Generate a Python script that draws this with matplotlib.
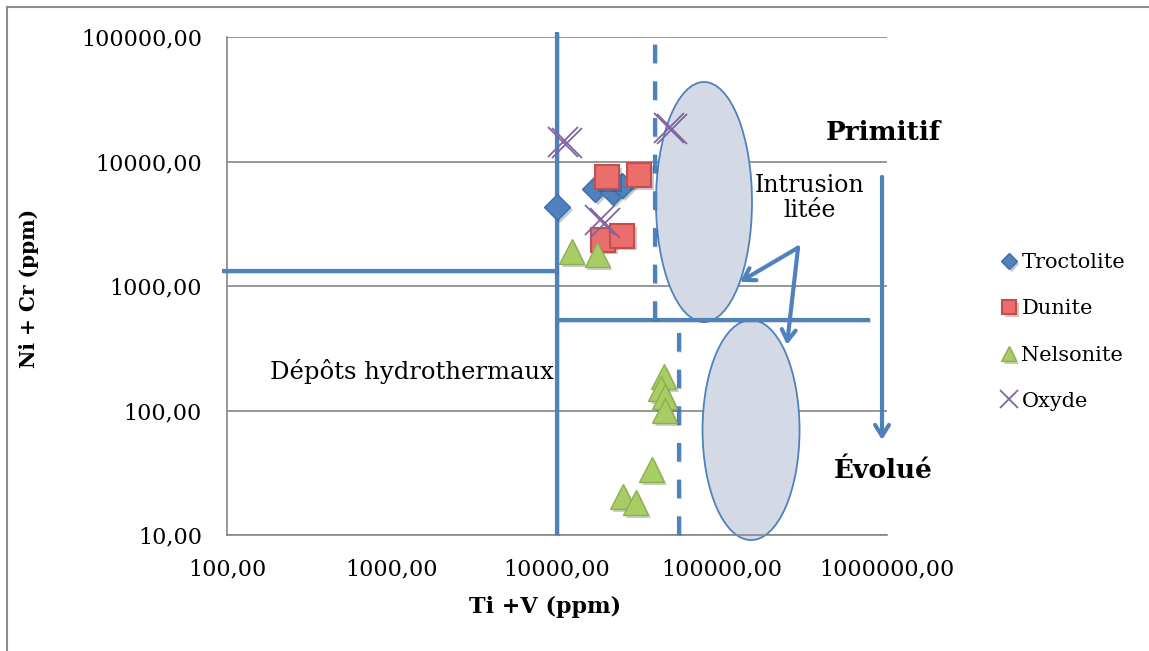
import numpy as np
import matplotlib
matplotlib.use('Agg')
import matplotlib.pyplot as plt
import matplotlib.patheffects as pe
from matplotlib.patches import Ellipse
from matplotlib.lines import Line2D
from matplotlib.ticker import FixedLocator, FuncFormatter

plt.rcParams['font.family'] = ['DejaVu Serif']

# Ti+V (x) and Ni+Cr (y), ppm
troctolite_x = [10000, 17000, 21800, 24800]
troctolite_y = [4300, 6000, 5700, 6400]
dunite_x = [20100, 31400, 19000, 24800]
dunite_y = [7500, 7800, 2350, 2530]
nelsonite_x = [12300, 17500, 44500, 42500, 45000, 45000, 37600, 25100, 30100]
nelsonite_y = [1880, 1780, 187, 150, 129, 100, 33.5, 20.3, 18.2]
oxyde_x = [10870, 11480, 18240, 19540, 47760, 49770]
oxyde_y = [14360, 14100, 3400, 3210, 18620, 18300]

# field boundaries
hydro_x = 10000          # vertical limit of hydrothermal deposits
hydro_y = 1325           # horizontal limit on the left
evol_y = 536             # primitive / evolved limit
dash_hi_x = 39300        # dashed limit above evol_y
dash_lo_x = 54900        # dashed limit below evol_y

x_ticks = [100, 1000, 10000, 100000, 1000000]
y_ticks = [10, 100, 1000, 10000, 100000]

blue = '#4f81bd'
grid_col = '#868686'

fig = plt.figure(figsize=(11.49, 6.51), dpi=100)
ax = fig.add_axes([227/1149, 116/651, 660/1149, 498/651])
ax.set_xscale('log')
ax.set_yscale('log')
ax.set_xlim(x_ticks[0], x_ticks[-1])
ax.set_ylim(y_ticks[0], y_ticks[-1])

fmt = FuncFormatter(lambda v, p: f"{v:.2f}".replace('.', ','))
ax.xaxis.set_major_locator(FixedLocator(x_ticks))
ax.yaxis.set_major_locator(FixedLocator(y_ticks))
ax.xaxis.set_minor_locator(FixedLocator([]))
ax.yaxis.set_minor_locator(FixedLocator([]))
ax.xaxis.set_major_formatter(fmt)
ax.yaxis.set_major_formatter(fmt)
ax.tick_params(length=0, labelsize=16)
ax.tick_params(axis='x', pad=17)
ax.tick_params(axis='y', pad=18)
ax.yaxis.grid(True, color=grid_col, lw=1.2)
ax.set_axisbelow(True)
for s in ['top', 'right']:
    ax.spines[s].set_visible(False)
for s in ['left', 'bottom']:
    ax.spines[s].set_color(grid_col)
    ax.spines[s].set_linewidth(1.2)

ax.set_xlabel('Ti +V (ppm)', fontsize=16, fontweight='bold')
ax.set_ylabel('Ni + Cr (ppm)', fontsize=14.5, fontweight='bold')
ax.xaxis.set_label_coords(0.482, -0.123)
ax.yaxis.set_label_coords(-0.285, 0.495)

# shaded fields for the layered intrusion
for cx, cy, w, h in [(0.7227, 0.6687, 0.1455, 0.482), (0.794, 0.2108, 0.147, 0.442)]:
    ax.add_patch(Ellipse((cx, cy), w, h, transform=ax.transAxes, facecolor='#d3dae5',
                         edgecolor=blue, lw=1.3, zorder=2, clip_on=False))

shadow = [pe.SimpleLineShadow(offset=(1, -1), alpha=0.12), pe.Normal()]
lkw = dict(color=blue, lw=3, solid_capstyle='butt', zorder=3, clip_on=False,
           path_effects=shadow)
ax.plot([hydro_x, hydro_x], [10, 109700], **lkw)
ax.plot([93, hydro_x], [hydro_y, hydro_y], **lkw)
ax.plot([hydro_x, 789000], [evol_y, evol_y], **lkw)
ax.plot([dash_hi_x, dash_hi_x], [evol_y, 100000], dashes=(4.5, 4.3), **lkw)
ax.plot([dash_lo_x, dash_lo_x], [10, evol_y], dashes=(4.5, 4.3), **lkw)


def arrow(start, end):
    props = dict(arrowstyle='->,head_length=0.8,head_width=0.5', color=blue, lw=3,
                 shrinkA=0, shrinkB=0)
    ax.annotate('', xy=end, xytext=start, arrowprops=props,
                annotation_clip=False, zorder=4)


arrow((289000, 2030), (128500, 1080))
arrow((289000, 2030), (247600, 337))
arrow((933000, 7520), (933000, 58))

mshadow = [pe.SimplePatchShadow(offset=(2, -2), alpha=0.25), pe.Normal()]
ax.plot(troctolite_x, troctolite_y, 'D', ms=13, mfc=blue, mec='#3f6ea8', mew=1,
        label='Troctolite', zorder=5, path_effects=mshadow)
ax.plot(dunite_x, dunite_y, 's', ms=17, mfc='#ec6e6c', mec='#c0504d', mew=1.5,
        label='Dunite', zorder=5, path_effects=mshadow)
ax.plot(nelsonite_x, nelsonite_y, '^', ms=18, mfc='#a9cd65', mec='#8db04f', mew=1,
        label='Nelsonite', zorder=5, path_effects=mshadow)
ax.plot(oxyde_x, oxyde_y, 'x', ms=21, mec='#8064a2', mew=1.3, label='Oxyde', zorder=6,
        clip_on=False)

t = ax.transAxes
ax.text((883 - 227) / 660, (535 - 133) / 498, 'Primitif', transform=t, fontsize=19,
        fontweight='bold', ha='center', va='center')
ax.text((883 - 227) / 660, (535 - 470) / 498, 'Évolué', transform=t, fontsize=19,
        fontweight='bold', ha='center', va='center')
ax.text((810 - 227) / 660, (535 - 198) / 498, 'Intrusion\nlitée', transform=t,
        fontsize=17, ha='center', va='center', linespacing=1.1)
ax.text((412 - 227) / 660, (535 - 372) / 498, 'Dépôts hydrothermaux', transform=t,
        fontsize=17.5, ha='center', va='center')

ax.legend(loc='center left', bbox_to_anchor=(984 / 1149, (651 - 332) / 651),
          bbox_transform=fig.transFigure, frameon=False, fontsize=15,
          markerscale=0.6, handlelength=0.6, handletextpad=0.3, labelspacing=1.3)

# outer chart border (top and left)
fig.add_artist(Line2D([7/1149, 1], [1 - 7/651, 1 - 7/651], color='#8c8c8c', lw=1.5))
fig.add_artist(Line2D([7/1149, 7/1149], [0, 1 - 7/651], color='#8c8c8c', lw=1.5))

fig.savefig('out.png', dpi=100)
